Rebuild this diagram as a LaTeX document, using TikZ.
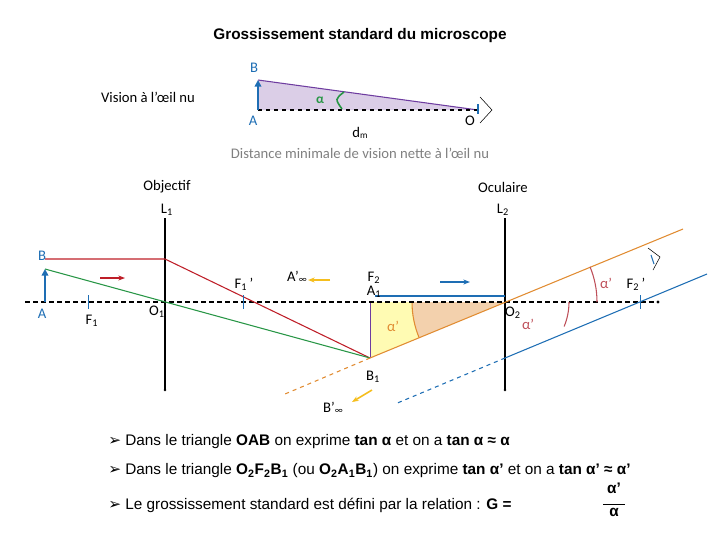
\documentclass[tikz,border=0pt]{standalone}
\usepackage{fontspec}
\setmainfont{Liberation Sans}
\newfontfamily\calfont{Carlito}
\newfontfamily\djfont{DejaVu Sans}
\usetikzlibrary{arrows.meta}
\definecolor{tblue}{RGB}{30,110,180}
\definecolor{tred}{RGB}{190,30,40}
\definecolor{tgreen}{RGB}{40,150,70}
\definecolor{torange}{RGB}{225,140,50}
\definecolor{tpurple}{RGB}{110,60,160}
\definecolor{arcred}{RGB}{190,80,90}
\definecolor{tyel}{RGB}{245,190,30}
\begin{document}
\begin{tikzpicture}[x=0.75pt,y=-0.75pt,
 lab/.style={font=\calfont\fontsize{11}{12}\selectfont,inner sep=0},
 blab/.style={lab,text=tblue},
 axisl/.style={thick,dash pattern=on 4pt off 2pt},
 lens/.style={thick},
 bul/.style={anchor=west,font=\fontsize{11.5}{13}\selectfont,inner sep=0}]
\useasboundingbox (0,0) rectangle (720,540);
\node[font=\bfseries\fontsize{11.5}{13}\selectfont] (title) at (360,36) {Grossissement standard du microscope};
% top triangle
\coordinate (tA) at (258,110); \coordinate (tB) at (258,80); \coordinate (tO) at (478,110);
\fill[tpurple!25] (tA)--(tB)--(tO)--cycle;
\draw[tpurple,thick] (tB)--(tO);
\draw[dashed,thick] (tA)--(tO);
\draw[tblue,very thick,-{Triangle[length=5pt,width=5pt]}] (tA)--(tB);
\draw[tgreen,very thick] (344,92) .. controls (335,99) .. (342,109);
\node[lab,text=tgreen,font=\bfseries\calfont] (al) at (320,100) {α};
\draw (480,97)--(492,110)--(480,123);
\draw[tblue,very thick] (478,104)--(478,114);
\node[blab] (lB) at (254,68) {B};
\node[blab] (lA) at (253,121) {A};
\node[lab] (lO) at (470,121) {O};
\node[lab] (dm) at (360,133) {d\raisebox{-1pt}{\scriptsize m}};
\node[lab,text=gray] (dist) at (360,153) {Distance minimale de vision nette à l’œil nu};
\node[lab] (vis) at (148,97) {Vision à l’œil nu};
% lenses labels
\node[lab] (obj) at (167,187) {Objectif};
\node[lab] (L1) at (167,210) {L\textsubscript{1}};
\node[lab] (ocu) at (503,187) {Oculaire};
\node[lab] (L2) at (503,210) {L\textsubscript{2}};
% key points
\coordinate (A) at (45,302); \coordinate (B) at (45,269);
\coordinate (O1) at (165,302); \coordinate (O2) at (505,302);
\coordinate (A1) at (370,302); \coordinate (B1) at (370,358);
% yellow triangle
\fill[yellow!30] (A1)--(B1)--(O2)--cycle;
\fill[torange!40] (O2)--(412,302) arc[start angle=180,end angle=157.5,radius=93]--cycle;
\draw[torange,thick] (412,302) arc[start angle=180,end angle=157.5,radius=93];
\draw[tpurple] (A1)--(B1);
% lenses
\draw[lens] (165,218)--(165,390); \fill (165,390) circle (1.3);
\draw[lens] (505,218)--(505,390); \fill (505,390) circle (1.3);
% axis
\draw[axisl] (25,302)--(658,302); \fill (658,302) circle (1.6);
% rays
\draw[tred,thick] (45,259)--(165,259)--(B1);
\draw[tgreen,thick] (B)--(B1);
\draw[tblue,thick] (375,296)--(505,296);
\draw[torange,thick] (B1)--(683,229);
\draw[torange,thick,dashed] (B1)--(285,394);
\draw[tblue,thick] (505,358)--(707,274);
\draw[tblue,thick,dashed] (505,358)--(395,404);
\draw[tblue,very thick,-{Triangle[length=5pt,width=5pt]}] (A)--(B);
% arcs alpha'
\draw[arcred,thick] (597,302) arc[start angle=0,end angle=-22.5,radius=92];
\draw[arcred,thick] (569,302) arc[start angle=0,end angle=22.5,radius=64];
% small direction arrows
\draw[tred,thick,-{Stealth[length=5pt]}] (100,278)--(125,278);
\draw[tblue,thick,-{Stealth[length=5pt]}] (440,282)--(470,282);
\draw[tyel,very thick,-{Stealth[length=5pt]}] (330,280)--(308,280);
\draw[tyel,very thick,-{Stealth[length=5pt]}] (372,390)--(352,402);
% ticks
\draw[tblue] (88,295)--(88,309);
\draw[tblue] (243,295)--(243,309);
\draw[tblue] (640,295)--(640,309);
% eye
\draw (648,248)--(660,257)--(653,270);
\draw[tblue,thick] (651,255)--(654,264);
% labels
\node[blab] (lbB) at (42,256) {B};
\node[blab] (lbA) at (42,314) {A};
\node[lab] (F1) at (92,321) {F\textsubscript{1}};
\node[lab] (lO1) at (157,312) {O\textsubscript{1}};
\node[lab] (F1p) at (244,284) {F\textsubscript{1}\,’};
\node[lab] (Ainf) at (297,277) {A’\raisebox{-1pt}{\scriptsize ∞}};
\node[lab] (F2) at (374,278) {F\textsubscript{2}};
\node[lab] (lA1) at (374,292) {A\textsubscript{1}};
\node[lab] (lO2) at (513,313) {O\textsubscript{2}};
\node[lab] (F2p) at (636,284) {F\textsubscript{2}\,’};
\node[lab] (lB1) at (373,377) {B\textsubscript{1}};
\node[lab] (Binf) at (333,408) {B’\raisebox{-1pt}{\scriptsize ∞}};
\node[lab,text=torange] (ap1) at (393,326) {α’};
\node[lab,text=arcred] (ap2) at (528,324) {α’};
\node[lab,text=arcred] (ap3) at (606,283) {α’};
% bottom text
\node[bul] (t1) at (108,442) {{\djfont ➢} Dans le triangle \textbf{OAB} on exprime \textbf{tan α} et on a \textbf{tan α ≈ α}};
\node[bul] (t2) at (108,471) {{\djfont ➢} Dans le triangle \textbf{O\textsubscript{2}F\textsubscript{2}B\textsubscript{1}} (ou \textbf{O\textsubscript{2}A\textsubscript{1}B\textsubscript{1}}) on exprime \textbf{tan α’} et on a \textbf{tan α’ ≈ α’}};
\node[bul] (t3) at (108,505) {{\djfont ➢} Le grossissement standard est défini par la relation : \textbf{G =}};
\node[font=\bfseries\fontsize{11.5}{13}\selectfont,inner sep=0,align=center] (fr) at (614,500) {α’\\[-5pt]\rule{16pt}{0.6pt}\\[-4pt]α};
\end{tikzpicture}
\end{document}
